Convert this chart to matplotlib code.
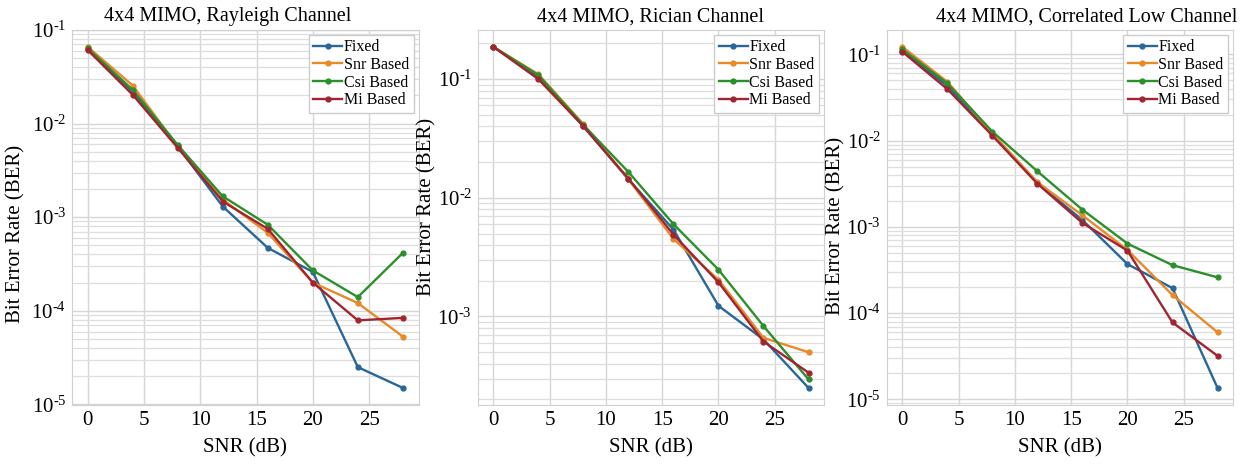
import numpy as np
import matplotlib.pyplot as plt
from matplotlib.ticker import FuncFormatter

plt.rcParams['font.family'] = 'Liberation Serif'
plt.rcParams['mathtext.fontset'] = 'custom'
plt.rcParams['mathtext.rm'] = 'Liberation Serif'
plt.rcParams['mathtext.it'] = 'Liberation Serif:italic'

# SNR points (dB)
snr = [0, 4, 8, 12, 16, 20, 24, 28]

# Rayleigh channel
ray_fixed = [0.062, 0.022, 0.0057, 0.0013, 0.00047, 0.00026, 2.5e-5, 1.5e-5]
ray_snr = [0.066, 0.0255, 0.0057, 0.00154, 0.00068, 0.0002, 0.000121, 5.3e-5]
ray_csi = [0.064, 0.0229, 0.0059, 0.00167, 0.00083, 0.00027, 0.00014, 0.000415]
ray_mi = [0.061, 0.0203, 0.0055, 0.00147, 0.00075, 0.0002, 7.9e-5, 8.4e-5]

# Rician channel
ric_fixed = [0.187, 0.105, 0.040, 0.0143, 0.0054, 0.00123, 0.00064, 0.00025]
ric_snr = [0.187, 0.11, 0.0417, 0.0143, 0.0045, 0.00204, 0.00066, 0.0005]
ric_csi = [0.187, 0.108, 0.041, 0.0165, 0.006, 0.00248, 0.00083, 0.000295]
ric_mi = [0.187, 0.10, 0.040, 0.0145, 0.0049, 0.00194, 0.000615, 0.000336]

# Correlated low channel
cor_fixed = [0.11, 0.043, 0.0119, 0.0032, 0.0012, 0.00037, 0.000195, 1.36e-5]
cor_snr = [0.122, 0.048, 0.012, 0.0033, 0.00136, 0.00054, 0.000162, 6.0e-5]
cor_csi = [0.114, 0.046, 0.0127, 0.0044, 0.00158, 0.00064, 0.00036, 0.00026]
cor_mi = [0.107, 0.0395, 0.0114, 0.00316, 0.00111, 0.00053, 7.8e-5, 3.2e-5]

labels = ['Fixed', 'Snr Based', 'Csi Based', 'Mi Based']
colors = ['#286797', '#e8892a', '#2b902b', '#a02530']

panels = [
    ('4x4 MIMO, Rayleigh Channel', [ray_fixed, ray_snr, ray_csi, ray_mi]),
    ('4x4 MIMO, Rician Channel', [ric_fixed, ric_snr, ric_csi, ric_mi]),
    ('4x4 MIMO, Correlated Low Channel', [cor_fixed, cor_snr, cor_csi, cor_mi]),
]

fig = plt.figure(figsize=(12.47, 4.66), dpi=100)
lefts = [0.0577, 0.383, 0.711]
title_x = [0.45, 0.5, 0.578]
ylab_pos = [(-0.135, 0.456), (-0.118, 0.528), (-0.118, 0.477)]


# power-of-ten labels with a short hyphen in the exponent
def pow10(v, pos):
    e = int(round(np.log10(v)))
    if e < 0:
        return '$10^{\u2010%d}$' % abs(e)
    return '$10^{%d}$' % e


for left, tx, yl, (title, series) in zip(lefts, title_x, ylab_pos, panels):
    ax = fig.add_axes([left, 0.131, 0.278, 0.805])
    for vals, lab, c in zip(series, labels, colors):
        ax.plot(snr, vals, '-o', color=c, label=lab, lw=1.7, ms=3.5)
    ax.set_yscale('log')
    ax.yaxis.set_major_formatter(FuncFormatter(pow10))
    ax.set_xticks([0, 5, 10, 15, 20, 25])
    ax.grid(True, which='major', color='#d6d6d6', lw=1.0)
    ax.grid(True, which='minor', axis='y', color='#dedede', lw=0.9)
    ax.set_axisbelow(True)
    for s in ax.spines.values():
        s.set_color('#d0d0d0')
    ax.tick_params(which='both', length=0, labelsize=15, pad=4)
    ax.set_title(title, fontsize=14.5, pad=6, x=tx)
    ax.set_xlabel('SNR (dB)', fontsize=15, labelpad=6)
    ax.set_ylabel('Bit Error Rate (BER)', fontsize=15)
    ax.yaxis.set_label_coords(*yl)
    leg = ax.legend(loc='upper right', fontsize=11.5, fancybox=False,
                    borderpad=0.3, labelspacing=0.1, handlelength=1.8,
                    handletextpad=0.1, borderaxespad=0.3, framealpha=1)
    leg.get_frame().set_edgecolor('#cccccc')

fig.savefig('out.png', dpi=100)
